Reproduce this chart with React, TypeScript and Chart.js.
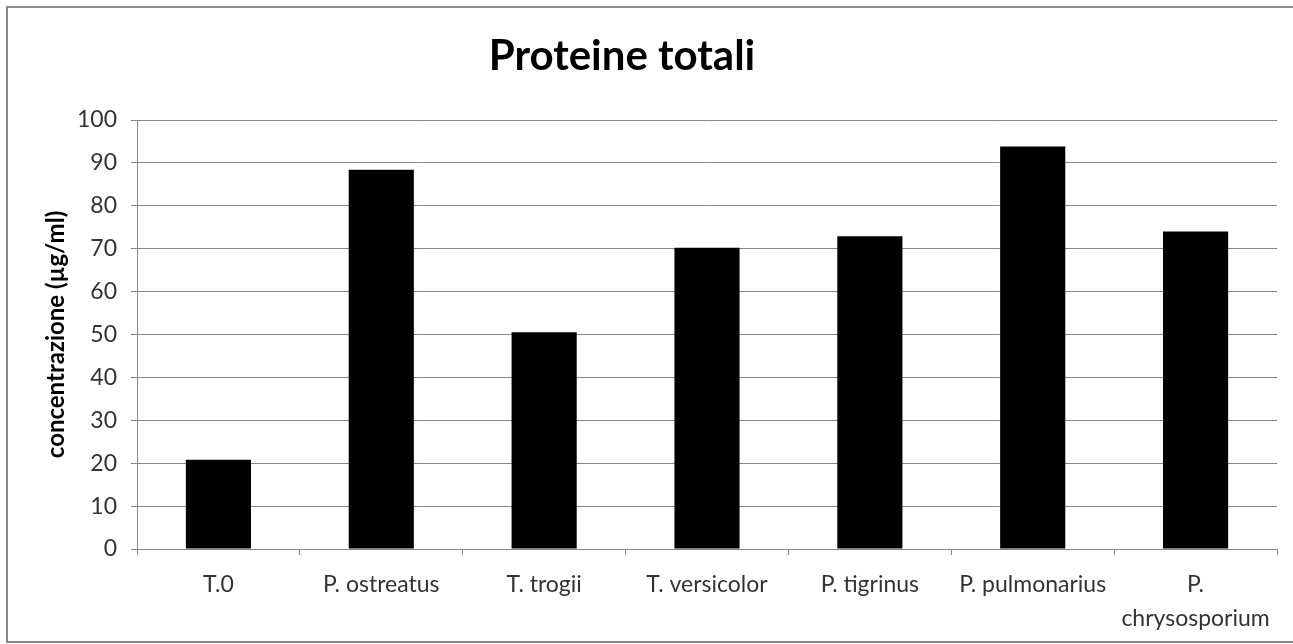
import React, { useEffect, useRef } from "react";
import { Chart, registerables } from "chart.js";

Chart.register(...registerables);

const TITLE = "Proteine totali";
const Y_TITLE = "concentrazione (µg/ml)";
const CATEGORIES: (string | string[])[] = [
  "T.0",
  "P. ostreatus",
  "T. trogii",
  "T. versicolor",
  "P. tigrinus",
  "P. pulmonarius",
  ["P.", "chrysosporium"],
];
const VALUES = [20.8, 88.4, 50.5, 70.2, 72.9, 93.8, 74.0];
const Y_MIN = 0;
const Y_MAX = 100;
const Y_STEP = 10;

const GRID = "#868686";
const TEXT = "#333333";
const FONT = "Lato, 'Open Sans', sans-serif";

export default function App() {
  const ref = useRef<HTMLCanvasElement | null>(null);

  useEffect(() => {
    if (!ref.current) return;
    const titlePlugin = {
      id: "customTitle",
      afterDraw(chart: any) {
        const ctx = chart.ctx;
        ctx.save();
        ctx.font = `bold 42px ${FONT}`;
        ctx.fillStyle = "#000";
        ctx.textAlign = "center";
        ctx.textBaseline = "alphabetic";
        ctx.fillText(TITLE, 622, 70);
        ctx.restore();
      },
    };
    const chart = new Chart(ref.current, {
      type: "bar",
      data: {
        labels: CATEGORIES as any,
        datasets: [
          {
            data: VALUES,
            backgroundColor: "#000000",
            borderWidth: 0,
            barPercentage: 0.4,
            categoryPercentage: 1.0,
          },
        ],
      },
      options: {
        animation: false,
        responsive: false,
        layout: { padding: { top: 120, right: 16, bottom: 0, left: 0 } },
        plugins: {
          legend: { display: false },
          tooltip: { enabled: false },
          title: { display: false },
        },
        scales: {
          x: {
            grid: {
              display: true,
              drawOnChartArea: false,
              offset: true,
              tickLength: 6,
              color: GRID,
              lineWidth: 1,
            },
            border: { display: true, color: GRID, width: 1 },
            ticks: {
              color: TEXT,
              padding: 12,
              maxRotation: 0,
              autoSkip: false,
              font: { family: FONT, size: 23, lineHeight: 1.5 },
            },
            afterFit(scale: any) {
              scale.height = 95;
            },
          },
          y: {
            min: Y_MIN,
            max: Y_MAX,
            ticks: {
              stepSize: Y_STEP,
              color: TEXT,
              padding: 14,
              font: { family: FONT, size: 23 },
            },
            grid: { color: GRID, tickLength: 6, lineWidth: 1 },
            border: { display: true, color: GRID, width: 1 },
            title: {
              display: true,
              text: Y_TITLE,
              color: "#000",
              font: { family: FONT, size: 24, weight: "bold" },
              padding: { top: 42, bottom: 0 },
            },
            afterFit(scale: any) {
              scale.width = 137;
            },
          },
        },
      },
      plugins: [titlePlugin],
    });
    return () => chart.destroy();
  }, []);

  return (
    <>
      <div
        style={{
          position: "absolute",
          left: 6,
          top: 6,
          width: 1285,
          height: 633,
          borderLeft: "2px solid #8a8a8a",
          borderTop: "2px solid #8a8a8a",
          borderBottom: "2px solid #8a8a8a",
          background: "#fff",
        }}
      />
      <canvas
        ref={ref}
        width={1293}
        height={644}
        style={{ position: "absolute", left: 0, top: 0, width: 1293, height: 644 }}
      />
    </>
  );
}
